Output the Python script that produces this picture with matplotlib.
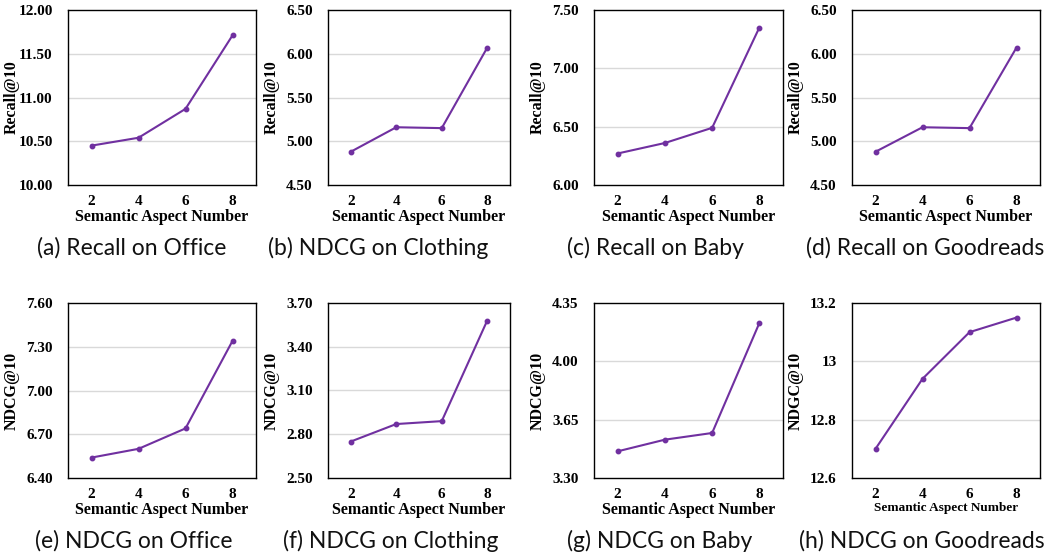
import numpy as np
import matplotlib.pyplot as plt

W, H = 1058, 559

aspects = [2, 4, 6, 8]

recall_office = [10.45, 10.54, 10.87, 11.71]
ndcg_clothing_top = [4.88, 5.16, 5.15, 6.07]
recall_baby = [6.27, 6.36, 6.49, 7.35]
recall_goodreads = [4.88, 5.16, 5.15, 6.07]
ndcg_office = [6.54, 6.60, 6.74, 7.34]
ndcg_clothing = [2.75, 2.87, 2.89, 3.58]
ndcg_baby = [3.46, 3.53, 3.57, 4.23]
ndcg_goodreads = [12.70, 12.94, 13.10, 13.15]

series = [recall_office, ndcg_clothing_top, recall_baby, recall_goodreads,
          ndcg_office, ndcg_clothing, ndcg_baby, ndcg_goodreads]
ylabels = ["Recall@10"] * 4 + ["NDCG@10"] * 3 + ["NDGC@10"]
yticks = [
    [10.0, 10.5, 11.0, 11.5, 12.0],
    [4.5, 5.0, 5.5, 6.0, 6.5],
    [6.0, 6.5, 7.0, 7.5],
    [4.5, 5.0, 5.5, 6.0, 6.5],
    [6.4, 6.7, 7.0, 7.3, 7.6],
    [2.5, 2.8, 3.1, 3.4, 3.7],
    [3.3, 3.65, 4.0, 4.35],
    [12.6, 12.8, 13.0, 13.2],
]
ytick_labels = [
    ["10.00", "10.50", "11.00", "11.50", "12.00"],
    ["4.50", "5.00", "5.50", "6.00", "6.50"],
    ["6.00", "6.50", "7.00", "7.50"],
    ["4.50", "5.00", "5.50", "6.00", "6.50"],
    ["6.40", "6.70", "7.00", "7.30", "7.60"],
    ["2.50", "2.80", "3.10", "3.40", "3.70"],
    ["3.30", "3.65", "4.00", "4.35"],
    ["12.6", "12.8", "13", "13.2"],
]
captions = ["(a) Recall on Office", "(b) NDCG on Clothing", "(c) Recall on Baby",
            "(d) Recall on Goodreads", "(e) NDCG on Office", "(f) NDCG on Clothing",
            "(g) NDCG on Baby", "(h) NDCG on Goodreads"]

# axes boxes in pixels: left, right
cols = [(68, 256), (328, 510), (594, 783), (852, 1040)]
rows = [(10, 185), (303, 478)]
cap_x = [[132, 378, 655, 925], [134, 391, 660, 922]]
cap_y = [248, 541]

fig = plt.figure(figsize=(W / 100, H / 100), dpi=100)
serif = "Liberation Serif"

for i, vals in enumerate(series):
    r, c = divmod(i, 4)
    l, rr = cols[c]
    t, b = rows[r]
    ax = fig.add_axes([l / W, 1 - b / H, (rr - l) / W, (b - t) / H])
    ax.plot(aspects, vals, color="#7030A0", lw=1.5, marker="o", ms=3.2)
    ax.set_xlim(1, 9)
    ax.set_xticks(aspects)
    ax.set_ylim(yticks[i][0], yticks[i][-1])
    ax.set_yticks(yticks[i])
    ax.set_yticklabels(ytick_labels[i])
    for y in yticks[i][1:-1]:
        ax.axhline(y, color="#d9d9d9", lw=1, zorder=0)
    ax.tick_params(axis="y", length=0, pad=11)
    ax.tick_params(axis="x", length=0, pad=7)
    for lab in ax.get_xticklabels() + ax.get_yticklabels():
        lab.set_fontfamily(serif)
        lab.set_fontweight("bold")
        lab.set_fontsize(11)
    xl_size = 9.5 if i == 7 else 11.5
    ax.set_xlabel("Semantic Aspect Number", fontfamily=serif, fontweight="bold",
                  fontsize=xl_size, labelpad=1)
    ax.set_ylabel(ylabels[i], fontfamily=serif, fontweight="bold", fontsize=11.5,
                  va="center")
    ax.yaxis.set_label_coords(-56 / (rr - l), 0.5)
    for s in ax.spines.values():
        s.set_linewidth(1.0)
        s.set_color("black")
    fig.text(cap_x[r][c] / W, 1 - cap_y[r] / H, captions[i], ha="center", va="center",
             fontsize=16.5, fontfamily="Lato", color="#111111")

fig.savefig("out.png", dpi=100)
